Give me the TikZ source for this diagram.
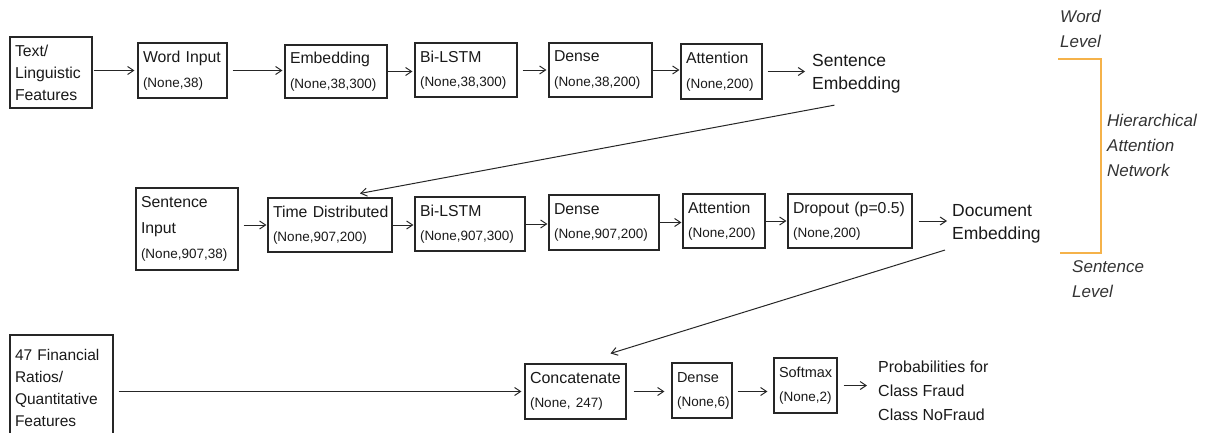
\documentclass[tikz,border=0pt]{standalone}
\usepackage{fontspec}
\setmainfont{Liberation Sans}
\usetikzlibrary{arrows.meta}
\definecolor{hanorange}{HTML}{F5B24A}
\newcommand\subtxt[1]{{\fontsize{13.5}{15}\selectfont #1}}
\begin{document}
\begin{tikzpicture}[x=1pt,y=-1pt,
  box/.style={draw=black!85, line width=1.1pt, inner xsep=5pt, inner ysep=0pt, align=left, text=black!90, font=\fontsize{15.8}{24.5}\selectfont},
  lbl/.style={inner sep=2pt, align=left, font=\fontsize{17.5}{23}\selectfont, text=black!90},
  ital/.style={inner sep=2pt, align=left, font=\fontsize{17}{25}\selectfont\itshape, text=black!80},
  arr/.style={draw=black!85, line width=1pt, -{Straight Barb[length=6pt,width=8pt]}},
  bracket/.style={draw=hanorange, line width=1.5pt},
]
\useasboundingbox (0,0) rectangle (1210,432);
\clip (0,0) rectangle (1210,432);

% Row 1
\node[box, minimum height=71, text width=72, font=\fontsize{15.8}{22}\selectfont] (txt) at (51,72.5) {Text/\\Linguistic\\Features};
\node[box, minimum height=55, text width=79] (wi) at (182.5,70.5) {\mbox{Word Input}\\\subtxt{(None,38)}};
\node[box, minimum height=53, text width=92] (emb) at (336,71.5) {Embedding\\\subtxt{(None,38,300)}};
\node[box, minimum height=54, text width=92] (bl1) at (466,70) {Bi-LSTM\\\subtxt{(None,38,300)}};
\node[box, minimum height=54, text width=93] (dn1) at (600.5,70) {Dense\\\subtxt{(None,38,200)}};
\node[box, minimum height=55, text width=71] (at1) at (721.5,71.5) {Attention\\\subtxt{(None,200)}};
\node[lbl, anchor=west] (se) at (810,73.5) {Sentence\\Embedding};

% Row 2
\node[box, minimum height=82, text width=92, font=\fontsize{15.8}{25.5}\selectfont] (si) at (187,229) {Sentence\\Input\\\subtxt{(None,907,38)}};
\node[box, minimum height=54, text width=114] (td) at (330,225) {\mbox{Time Distributed}\\\subtxt{(None,907,200)}};
\node[box, minimum height=54, text width=100] (bl2) at (470,224) {Bi-LSTM\\\subtxt{(None,907,300)}};
\node[box, minimum height=55, text width=100] (dn2) at (604,222.5) {Dense\\\subtxt{(None,907,200)}};
\node[box, minimum height=54, text width=72] (at2) at (724,221) {Attention\\\subtxt{(None,200)}};
\node[box, minimum height=54, text width=114] (dr) at (850,221) {\mbox{Dropout (p=0.5)}\\\subtxt{(None,200)}};
\node[lbl, anchor=west] (de) at (950,223.5) {Document\\Embedding};

% Row 3
\node[box, minimum height=105, text width=93, font=\fontsize{15.5}{22}\selectfont] (fin) at (61.5,387.5) {\mbox{47 Financial}\\Ratios/\\Quantitative\\Features};
\node[box, minimum height=55, text width=91, font=\fontsize{16}{24}\selectfont] (cc) at (575.5,391.5) {Concatenate\\\subtxt{\mbox{(None, 247)}}};
\node[box, minimum height=55, text width=50, font=\fontsize{14.5}{24}\selectfont] (dn3) at (702,390.5) {Dense\\\subtxt{(None,6)}};
\node[box, minimum height=55, text width=53, font=\fontsize{14.5}{24}\selectfont] (sm) at (805.5,385.5) {Softmax\\\subtxt{(None,2)}};
\node[lbl, anchor=west, font=\fontsize{16}{24}\selectfont] (pr) at (876,391) {Probabilities for\\Class Fraud\\Class NoFraud};

% Right side labels
\node[ital, anchor=west] (wl) at (1058,28.5) {Word\\Level};
\node[ital, anchor=west] (han) at (1105,145) {Hierarchical\\Attention\\Network};
\node[ital, anchor=west] (sl) at (1070,279.5) {Sentence\\Level};
\coordinate (bt) at (1058,59);
\coordinate (bb) at (1060,253);
\draw[bracket] (bt) -- (1101,59) -- (1101,253) -- (bb);

% Row 1 arrows
\draw[arr, shorten <=1pt, shorten >=3pt] (txt.east |- wi.east) -- (wi.west);
\draw[arr, shorten <=5pt, shorten >=2pt] (wi.east) -- (wi.east -| emb.west);
\draw[arr, shorten <=0pt, shorten >=2pt] (emb.east) -- (emb.east -| bl1.west);
\draw[arr, shorten <=5pt, shorten >=2pt] (bl1.east) -- (bl1.east -| dn1.west);
\draw[arr, shorten <=0pt, shorten >=1pt] (dn1.east) -- (dn1.east -| at1.west);
\draw[arr, shorten <=5pt, shorten >=5pt] (at1.east) -- (at1.east -| se.west);
\draw[arr] ([shift={(-22,10)}]se.south) -- ([shift={(30,-4)}]td.north);

% Row 2 arrows
\draw[arr, shorten <=5pt, shorten >=1pt] (si.east |- td.east) -- (td.west);
\draw[arr, shorten <=0pt, shorten >=1pt] (td.east) -- (td.east -| bl2.west);
\draw[arr, shorten <=0pt, shorten >=1pt] (bl2.east) -- (bl2.east -| dn2.west);
\draw[arr, shorten <=0pt, shorten >=1pt] (dn2.east) -- (dn2.east -| at2.west);
\draw[arr, shorten <=0pt, shorten >=1pt] (at2.east) -- (at2.east -| dr.west);
\draw[arr, shorten <=6pt, shorten >=3pt] (dr.east) -- (dr.east -| de.west);
\draw[arr] ([shift={(-5,5)}]de.south west) -- ([shift={(35,-10)}]cc.north);

% Row 3 arrows
\draw[arr, shorten <=5pt, shorten >=3pt] (fin.east |- cc.west) -- (cc.west);
\draw[arr, shorten <=7pt, shorten >=7pt] (cc.east) -- (cc.east -| dn3.west);
\draw[arr, shorten <=5pt, shorten >=6pt] (dn3.east |- cc.east) -- (cc.east -| sm.west);
\draw[arr, shorten <=6pt, shorten >=9pt] (sm.east) -- (sm.east -| pr.west);
\end{tikzpicture}
\end{document}
